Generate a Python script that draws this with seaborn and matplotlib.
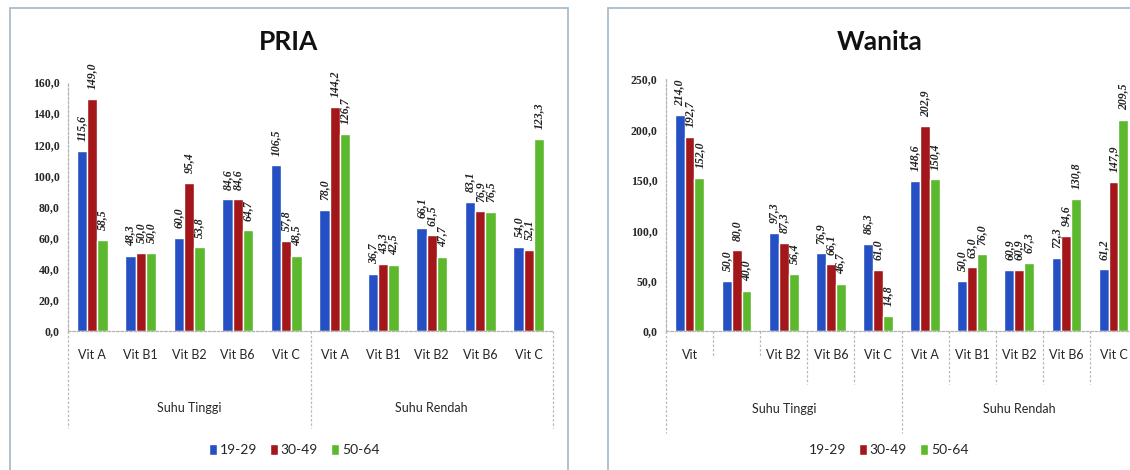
import numpy as np
import pandas as pd
import matplotlib.pyplot as plt
import seaborn as sns
from matplotlib.patches import Rectangle, Patch

# data
vitamin = ["Vit A", "Vit B1", "Vit B2", "Vit B6", "Vit C"]
suhu = ["Suhu Tinggi", "Suhu Rendah"]
umur = ["19-29", "30-49", "50-64"]

pria_1929 = [115.6, 48.3, 60.0, 84.6, 106.5, 78.0, 36.7, 66.1, 83.1, 54.0]
pria_3049 = [149.0, 50.0, 95.4, 84.6, 57.8, 144.2, 43.3, 61.5, 76.9, 52.1]
pria_5064 = [58.5, 50.0, 53.8, 64.7, 48.5, 126.7, 42.5, 47.7, 76.5, 123.3]

wanita_1929 = [214.0, 50.0, 97.3, 76.9, 86.3, 148.6, 50.0, 60.9, 72.3, 61.2]
wanita_3049 = [192.7, 80.0, 87.3, 66.1, 61.0, 202.9, 63.0, 60.9, 94.6, 147.9]
wanita_5064 = [152.0, 40.0, 56.4, 46.7, 14.8, 150.4, 76.0, 67.3, 130.8, 209.5]

pria_ticks = [0, 20, 40, 60, 80, 100, 120, 140, 160]
wanita_ticks = [0, 50, 100, 150, 200, 250]

warna = ["#2550c4", "#a3171b", "#5cb82c"]

sns.set_style("white")
plt.rcParams["font.family"] = ["Lato", "DejaVu Sans"]

W, H = 1130, 470
fig = plt.figure(figsize=(W / 100, H / 100), dpi=100)


def make_df(a, b, c):
    kategori = [f"{s}|{v}" for s in suhu for v in vitamin]
    return pd.DataFrame({
        "kategori": kategori * 3,
        "umur": np.repeat(umur, len(kategori)),
        "nilai": a + b + c,
    })


def koma(v):
    return f"{v:.1f}".replace(".", ",")


def draw_panel(ax, df, ticks, title, title_x, legend_x, seps, hide_first_handle, labels):
    sns.barplot(data=df, x="kategori", y="nilai", hue="umur", palette=warna,
                width=0.63, errorbar=None, saturation=1, ax=ax, legend=False)
    ax.set_yticks(ticks)
    ax.set_yticklabels([koma(t) for t in ticks], family="Liberation Serif",
                       fontweight="bold", fontsize=8.5)
    ax.set_xticks(range(10))
    ax.set_xticklabels(labels, fontsize=9)
    ax.tick_params(axis="both", length=0)
    ax.tick_params(axis="x", pad=13)
    ax.tick_params(axis="y", pad=6)
    ax.set_xlabel("")
    ax.set_ylabel("")
    for s in ["top", "right"]:
        ax.spines[s].set_visible(False)
    for s in ["left", "bottom"]:
        ax.spines[s].set_color("#b3b3b3")
        ax.spines[s].set_linestyle((0, (2, 1.5)))
        ax.spines[s].set_linewidth(0.9)

    for cont in ax.containers:
        vals = [b.get_height() for b in cont]
        ax.bar_label(cont, labels=[koma(v) for v in vals], rotation=90, padding=7,
                     family="Liberation Serif", fontweight="bold", style="italic",
                     fontsize=8.5, color="#222222")

    tr = ax.get_xaxis_transform()
    for x, y_end in seps:
        ax.plot([x, x], [0, y_end], transform=tr, clip_on=False,
                color="#b8b8b8", lw=0.9, ls=(0, (2, 1.5)))
    ax.text(2, -0.31, suhu[0], transform=tr, ha="center", va="center", fontsize=9)
    ax.text(7, -0.31, suhu[1], transform=tr, ha="center", va="center", fontsize=9)

    # keep the category axis tight after the extra lines
    ax.set_xlim(-0.5, 9.5)
    ax.set_ylim(0, ticks[-1])

    fig.text(title_x, 0.91, title, ha="center", va="center", fontsize=19,
             fontweight="bold", color="#111111")

    handles = [Patch(facecolor=c) for c in warna]
    if hide_first_handle:
        handles[0] = Patch(facecolor="none", edgecolor="none")
    ax.legend(handles, umur, loc="center", bbox_to_anchor=(legend_x, 0.043),
              bbox_transform=fig.transFigure, ncol=3, frameon=False, fontsize=10,
              handlelength=0.6, handleheight=0.9, handletextpad=0.2,
              columnspacing=0.9)


# panel frames
fig.patches.append(Rectangle((10 / W, -0.02), 558 / W, (H - 8) / H + 0.02,
                             transform=fig.transFigure, fill=False,
                             edgecolor="#a9bccd", lw=1.3))
fig.patches.append(Rectangle((608 / W, -0.02), 560 / W, (H - 8) / H + 0.02,
                             transform=fig.transFigure, fill=False,
                             edgecolor="#a9bccd", lw=1.3))

# PRIA
ax1 = fig.add_axes([68 / W, (H - 331) / H, 485 / W, 249 / H])
seps1 = [(-0.5, -0.39), (4.5, -0.39), (9.5, -0.39)]
draw_panel(ax1, make_df(pria_1929, pria_3049, pria_5064), pria_ticks, "PRIA",
           289 / W, 294 / W, seps1, False, vitamin * 2)

# Wanita (right side runs past the image edge, as in the scan)
ax2 = fig.add_axes([666 / W, (H - 331) / H, 471 / W, 252 / H])
seps2 = [(-0.5, -0.405), (0.5, -0.10), (1.5, -0.10), (2.5, -0.21), (3.5, -0.21),
         (4.5, -0.405), (5.5, -0.21), (6.5, -0.21), (7.5, -0.21), (8.5, -0.21),
         (9.5, -0.405)]
labels2 = ["Vit", "", "Vit B2", "Vit B6", "Vit C"] + vitamin
draw_panel(ax2, make_df(wanita_1929, wanita_3049, wanita_5064), wanita_ticks, "Wanita",
           880 / W, 883 / W, seps2, True, labels2)

fig.savefig("out.png", dpi=100)
